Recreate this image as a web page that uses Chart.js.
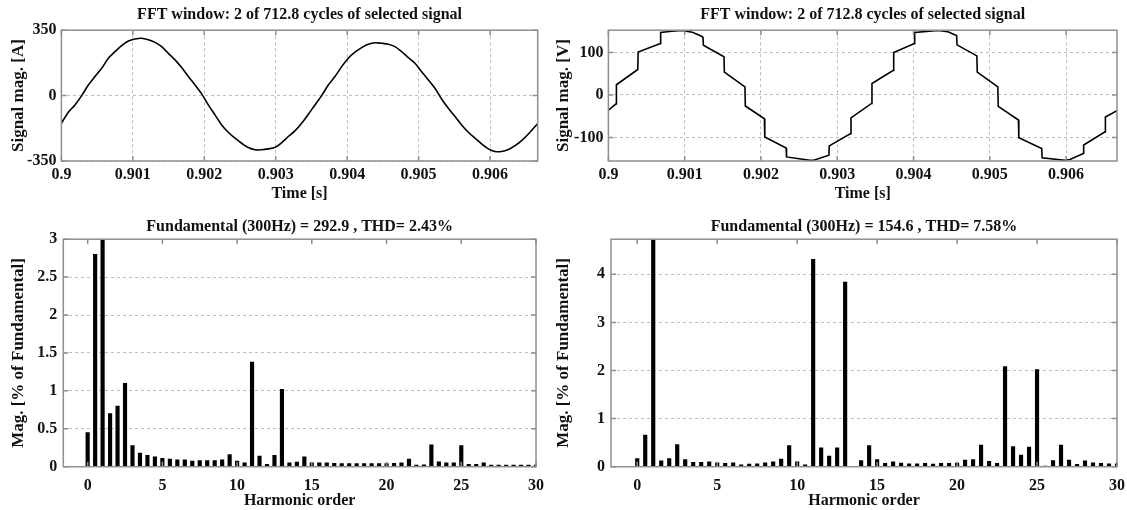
<!DOCTYPE html>
<html>
<head>
<meta charset="utf-8">
<script src="https://cdn.jsdelivr.net/npm/chart.js@4.4.0/dist/chart.umd.min.js"></script>
<style>
  body { margin: 0; background: #fff; }
  #wrap { position: relative; width: 1127px; height: 510px; overflow: hidden; }
  canvas { position: absolute; }
</style>
</head>
<body>
<div id="wrap">
  <canvas id="currentWave" width="560" height="210" style="left:0;top:0"></canvas>
  <canvas id="voltageWave" width="582" height="210" style="left:545px;top:0"></canvas>
  <canvas id="currentFft" width="560" height="300" style="left:0;top:210px"></canvas>
  <canvas id="voltageFft" width="582" height="300" style="left:545px;top:210px"></canvas>
</div>
<script>
// time axis of the FFT window (2 cycles of 300 Hz)
const timeTicks = [0.9, 0.901, 0.902, 0.903, 0.904, 0.905, 0.906];
const timeTickLabels = ['0.9', '0.901', '0.902', '0.903', '0.904', '0.905', '0.906'];

// current signal [A]
const currentTime = [0.9, 0.900097, 0.90019, 0.900284, 0.900377, 0.90047, 0.900564, 0.900657, 0.90075, 0.900843,
  0.900937, 0.90103, 0.901123, 0.901217, 0.90131, 0.901403, 0.901497, 0.90159, 0.901683, 0.901777,
  0.90187, 0.901963, 0.902056, 0.90215, 0.902243, 0.902336, 0.90243, 0.902523, 0.902616, 0.90271,
  0.902803, 0.902896, 0.90299, 0.903083, 0.903176, 0.903269, 0.903363, 0.903456, 0.903549, 0.903643,
  0.903736, 0.903829, 0.903923, 0.904016, 0.904109, 0.904203, 0.904296, 0.904389, 0.904482, 0.904576,
  0.904669, 0.904762, 0.904856, 0.904949, 0.905042, 0.905136, 0.905229, 0.905322, 0.905416, 0.905509,
  0.905602, 0.905696, 0.905789, 0.905882, 0.905976, 0.906069, 0.906162, 0.90625, 0.90635, 0.90645,
  0.90655, 0.906667];
const currentValue = [-148, -89, -50, 0, 57, 102, 146, 200, 235, 267,
  292, 303, 307, 299, 285, 262, 226, 191, 150, 102,
  57, 9, -50, -103, -157, -196, -228, -255, -278, -290,
  -290, -285, -277, -252, -219, -189, -148, -100, -50, 0,
  57, 102, 155, 200, 232, 257, 275, 283, 280, 275,
  262, 235, 203, 173, 128, 84, 39, -18, -68, -112,
  -157, -196, -228, -258, -285, -299, -299, -290, -268, -238,
  -200, -150];
const currentTicks = [-350, 0, 350];

// voltage signal [V]
const voltageTime = [0.9, 0.9001, 0.900105, 0.900385, 0.90039, 0.90068, 0.900685, 0.90083, 0.90096, 0.9011,
  0.9012, 0.90124, 0.901245, 0.901515, 0.90152, 0.90179, 0.901795, 0.902045, 0.90205, 0.90233,
  0.902335, 0.90264, 0.90269, 0.90289, 0.902895, 0.903175, 0.90318, 0.90345, 0.903455, 0.903735,
  0.90374, 0.90401, 0.904015, 0.904324, 0.90445, 0.904565, 0.90457, 0.90483, 0.904835, 0.905105,
  0.90511, 0.905375, 0.90538, 0.90568, 0.905685, 0.905984, 0.90605, 0.906225, 0.90623, 0.90651,
  0.906515, 0.906667];
const voltageValue = [-36, -21, 24, 60, 101, 121, 147, 150, 152, 148,
  140, 136, 117, 90, 54, 19, -26, -56, -99, -125,
  -146, -154, -154, -142, -120, -91, -54, -20, 27, 58,
  100, 121, 147, 152, 149, 140, 118, 92, 54, 19,
  -27, -59, -101, -126, -148, -154, -152, -138, -118, -87,
  -52, -37];
const voltageTicks = [-100, 0, 100];

// harmonic spectra [% of fundamental]
const harmonicOrder = [0, 0.5, 1, 1.5, 2, 2.5, 3, 3.5, 4, 4.5, 5, 5.5, 6, 6.5, 7, 7.5, 8, 8.5, 9, 9.5,
  10, 10.5, 11, 11.5, 12, 12.5, 13, 13.5, 14, 14.5, 15, 15.5, 16, 16.5, 17, 17.5, 18, 18.5, 19, 19.5,
  20, 20.5, 21, 21.5, 22, 22.5, 23, 23.5, 24, 24.5, 25, 25.5, 26, 26.5, 27, 27.5, 28, 28.5, 29, 29.5, 30];
const currentHarmonics = [0.45, 2.80, 100, 0.70, 0.80, 1.10, 0.28, 0.18, 0.15, 0.13,
  0.11, 0.10, 0.09, 0.09, 0.075, 0.08, 0.08, 0.08, 0.09, 0.16,
  0.075, 0.05, 1.38, 0.14, 0.03, 0.15, 1.02, 0.05, 0.06, 0.13,
  0.05, 0.05, 0.05, 0.045, 0.04, 0.04, 0.04, 0.04, 0.04, 0.04,
  0.04, 0.045, 0.05, 0.10, 0.02, 0.025, 0.29, 0.065, 0.05, 0.05,
  0.28, 0.03, 0.03, 0.05, 0.02, 0.02, 0.02, 0.02, 0.02, 0.02, 0.02];
const voltageHarmonics = [0.17, 0.66, 100, 0.12, 0.17, 0.46, 0.15, 0.09, 0.09, 0.10,
  0.08, 0.07, 0.08, 0.04, 0.055, 0.06, 0.08, 0.10, 0.16, 0.44,
  0.10, 0.04, 4.31, 0.39, 0.22, 0.39, 3.84, 0, 0.125, 0.44,
  0.15, 0.07, 0.10, 0.075, 0.06, 0.06, 0.07, 0.055, 0.07, 0.07,
  0.075, 0.14, 0.15, 0.45, 0.11, 0.07, 2.08, 0.42, 0.24, 0.41,
  2.02, 0.015, 0.125, 0.45, 0.14, 0.05, 0.12, 0.08, 0.07, 0.06, 0.06];
const harmonicTicks = [0, 5, 10, 15, 20, 25, 30];
const currentFftTicks = [0, 0.5, 1, 1.5, 2, 2.5, 3];
const voltageFftTicks = [0, 1, 2, 3, 4];

Chart.defaults.font.family = '"Liberation Serif", "Times New Roman", serif';
Chart.defaults.font.weight = 'bold';
Chart.defaults.font.size = 16;
Chart.defaults.color = '#111';

const frameColor = '#8f8f8f';
const gridColor = '#bdbdbd';

// box around the axes with small inward tick marks, like MATLAB
const axesFrame = {
  id: 'axesFrame',
  afterDatasetsDraw(chart) {
    const {ctx, chartArea: a, scales} = chart;
    ctx.save();
    ctx.strokeStyle = frameColor;
    ctx.lineWidth = 1.5;
    ctx.beginPath();
    scales.x.ticks.forEach(t => {
      const px = scales.x.getPixelForValue(t.value);
      ctx.moveTo(px, a.bottom); ctx.lineTo(px, a.bottom - 5);
      ctx.moveTo(px, a.top); ctx.lineTo(px, a.top + 5);
    });
    scales.y.ticks.forEach(t => {
      const py = scales.y.getPixelForValue(t.value);
      ctx.moveTo(a.left, py); ctx.lineTo(a.left + 5, py);
      ctx.moveTo(a.right, py); ctx.lineTo(a.right - 5, py);
    });
    ctx.stroke();
    ctx.strokeRect(a.left, a.top, a.right - a.left, a.bottom - a.top);
    ctx.restore();
  }
};

function useTicks(values) {
  return scale => { scale.ticks = values.map(v => ({value: v})); };
}

function waveChart(id, time, values, yTicks, yMin, yMax, yTitle, axisWidth, padRight, smooth) {
  return new Chart(document.getElementById(id), {
    type: 'scatter',
    data: {
      datasets: [{
        data: time.map((t, i) => ({x: t, y: values[i]})),
        showLine: true,
        borderColor: '#000',
        borderWidth: 1.6,
        pointRadius: 0,
        tension: smooth
      }]
    },
    options: {
      responsive: false,
      animation: false,
      events: [],
      layout: {padding: {left: 0, right: padRight, top: 0, bottom: 0}},
      plugins: {
        legend: {display: false},
        tooltip: {enabled: false},
        title: {
          display: true,
          text: 'FFT window: 2 of 712.8 cycles of selected signal',
          fullSize: false,
          color: '#111',
          font: {size: 16, weight: 'bold'},
          padding: {top: 5, bottom: 6}
        }
      },
      scales: {
        x: {
          type: 'linear',
          min: 0.9,
          max: 0.906667,
          afterBuildTicks: useTicks(timeTicks),
          afterFit: s => { s.height = 49; },
          ticks: {callback: (v, i) => timeTickLabels[i], padding: 4, maxRotation: 0, font: {size: 16}},
          grid: {color: gridColor, drawTicks: false},
          border: {display: false, dash: [3, 3]},
          title: {display: true, text: 'Time [s]', font: {size: 16}, padding: {top: 0, bottom: 7}}
        },
        y: {
          min: yMin,
          max: yMax,
          afterBuildTicks: useTicks(yTicks),
          afterFit: s => { s.width = axisWidth; },
          ticks: {callback: v => String(v), padding: 5, font: {size: 16}},
          grid: {color: gridColor, drawTicks: false},
          border: {display: false, dash: [3, 3]},
          title: {display: true, text: yTitle, font: {size: 17}, padding: {top: 8, bottom: 0}}
        }
      }
    },
    plugins: [axesFrame]
  });
}

function fftChart(id, values, yTicks, yMax, titleText, axisWidth, padRight, xMin) {
  return new Chart(document.getElementById(id), {
    type: 'bar',
    data: {
      datasets: [{
        data: harmonicOrder.map((h, i) => ({x: h, y: values[i]})),
        backgroundColor: '#000',
        barThickness: 3.5,
        clip: 0
      }]
    },
    options: {
      responsive: false,
      animation: false,
      events: [],
      layout: {padding: {left: 0, right: padRight, top: 0, bottom: 0}},
      plugins: {
        legend: {display: false},
        tooltip: {enabled: false},
        title: {
          display: true,
          text: titleText,
          fullSize: false,
          color: '#111',
          font: {size: 16, weight: 'bold'},
          padding: {top: 7, bottom: 3}
        }
      },
      scales: {
        x: {
          type: 'linear',
          min: xMin,
          max: 30,
          offset: false,
          afterBuildTicks: useTicks(harmonicTicks),
          afterFit: s => { s.height = 43.3; },
          ticks: {callback: v => String(v), padding: 2, maxRotation: 0, font: {size: 16}},
          grid: {display: false, offset: false},
          border: {display: false},
          title: {display: true, text: 'Harmonic order', font: {size: 16}, padding: {top: 0, bottom: 0}}
        },
        y: {
          min: 0,
          max: yMax,
          afterBuildTicks: useTicks(yTicks),
          afterFit: s => { s.width = axisWidth; },
          ticks: {callback: v => String(v), padding: 6, font: {size: 16}},
          grid: {color: gridColor, drawTicks: false},
          border: {display: false, dash: [3, 3]},
          title: {display: true, text: 'Mag. [% of Fundamental]', font: {size: 17}, padding: {top: 8, bottom: 0}}
        }
      }
    },
    plugins: [axesFrame]
  });
}

waveChart('currentWave', currentTime, currentValue, currentTicks, -350, 350, 'Signal mag. [A]', 61.4, 22.3, 0.3);
waveChart('voltageWave', voltageTime, voltageValue, voltageTicks, -155.6, 152.6, 'Signal mag. [V]', 63.4, 10, 0);
fftChart('currentFft', currentHarmonics, currentFftTicks, 3,
  'Fundamental (300Hz) = 292.9 , THD= 2.43%', 63.3, 24, -1.63);
fftChart('voltageFft', voltageHarmonics, voltageFftTicks, 4.73,
  'Fundamental (300Hz) = 154.6 , THD= 7.58%', 66, 10, -1.64);
</script>
</body>
</html>
